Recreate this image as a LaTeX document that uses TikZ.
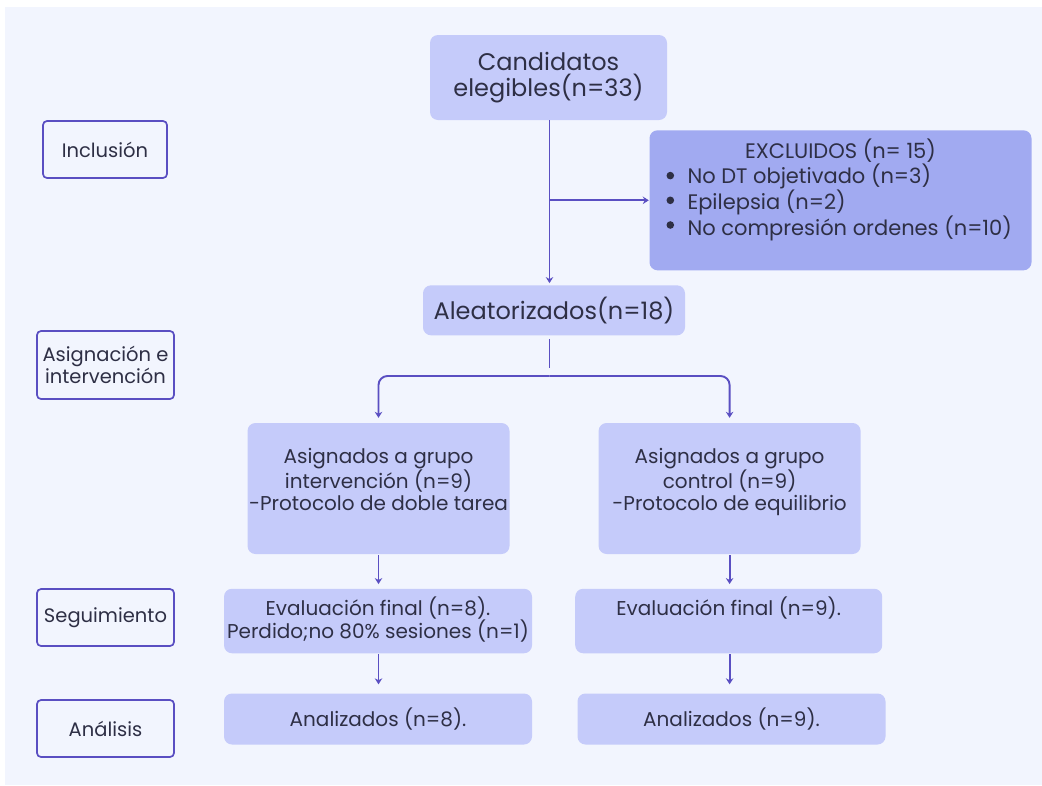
\documentclass[tikz,border=0pt]{standalone}
\usepackage{fontspec}
\setmainfont{Poppins}
\usetikzlibrary{arrows.meta}
\definecolor{bgc}{HTML}{F2F5FE}
\definecolor{boxc}{HTML}{C5CBFA}
\definecolor{exc}{HTML}{A1AAF1}
\definecolor{edgec}{HTML}{5A4FC2}
\definecolor{txt}{HTML}{2E2F45}
\newcommand\fsz[2]{\fontsize{#1}{#2}\selectfont}
\newcommand\bul{\hspace*{38pt}}
\begin{document}
\begin{tikzpicture}[x=1pt,y=-1pt,
  box/.style={fill=boxc, rounded corners=8pt, inner sep=0pt, text=txt},
  exbox/.style={fill=exc, rounded corners=8pt, inner sep=0pt, text=txt},
  side/.style={draw=edgec, line width=1.7pt, fill=bgc, rounded corners=4pt, inner sep=0pt,
               text=txt, align=center, font=\fsz{19.5}{22}},
  link/.style={draw=edgec, line width=1.9pt},
  arr/.style={link, -{Stealth[length=6pt,width=7.5pt]}},
  dot/.style={fill=txt}
]
\useasboundingbox (0,0) rectangle (1042,785);
\fill[white] (0,0) rectangle (1042,785);
\fill[bgc] (5,7) rectangle (1042,785);

% stage labels
\node[side, minimum width=124pt, minimum height=57pt] (incl) at (105,149.5) {Inclusión};
\node[side, minimum width=137pt, minimum height=68pt] (asig) at (105.5,365) {Asignación e\\intervención};
\node[side, minimum width=137pt, minimum height=57pt] (segu) at (105.5,617.5) {Seguimiento};
\node[side, minimum width=137pt, minimum height=57pt] (anls) at (105.5,728.5) {Análisis};

% main boxes
\node[box, minimum width=237pt, minimum height=85pt, align=center, font=\fsz{24}{26.7}] (cand) at (548.5,77.5) {Candidatos\\elegibles(n=33)};
\node[exbox] (excl) at (840.5,200.3) {\parbox[t][140pt][t]{382pt}{\fsz{21}{24.7}%
  {\centering\rule{0pt}{28pt}EXCLUIDOS (n= 15)\par}%
  \raggedright
  \bul No DT objetivado (n=3)\\
  \bul Epilepsia (n=2)\\
  \bul No compresión ordenes (n=10)\par}};
\fill[dot] ([shift={(21,45.5)}]excl.north west) circle (3.8);
\fill[dot] ([shift={(21,70.2)}]excl.north west) circle (3.8);
\fill[dot] ([shift={(21,94.9)}]excl.north west) circle (3.8);
\node[box, minimum width=262pt, minimum height=50pt, font=\fsz{24}{27}] (aleat) at (554,310.3) {Aleatorizados(n=18)};

\node[box] (lg) at (378.5,488.5) {\parbox[t][131pt][t]{262pt}{\fsz{20}{22.2}\centering
  \rule{0pt}{40.3pt}Asignados a grupo\\intervención (n=9)\\-Protocolo de doble tarea\par}};
\node[box] (rg) at (729.6,488.5) {\parbox[t][131pt][t]{262pt}{\fsz{20}{22.2}\centering
  \rule{0pt}{40.3pt}Asignados a grupo\\control (n=9)\\-Protocolo de equilibrio\par}};

\node[box] (evl) at (378,621) {\parbox[t][64.5pt][t]{308pt}{\fsz{20}{23.3}\centering
  \rule{0pt}{26.5pt}Evaluación final (n=8).\\Perdido;no 80\% sesiones (n=1)\par}};
\node[box] (evr) at (728.7,621) {\parbox[t][64.5pt][t]{307pt}{\fsz{20}{23.3}\centering
  \rule{0pt}{27pt}Evaluación final (n=9).\par}};

\node[box, minimum width=308pt, minimum height=51pt, font=\fsz{20}{22}] (anl) at (378,719) {Analizados (n=8).};
\node[box, minimum width=308pt, minimum height=51pt, font=\fsz{20}{22}] (anr) at (731.5,719) {Analizados (n=9).};

% connectors
\coordinate (split) at (549.5,376);
\draw[arr, shorten >=2pt] (cand.south -| split) -- (aleat.north -| split);
\draw[arr, shorten >=0.5pt] (excl.west -| split) -- (excl.west);
\draw[link] (aleat.south -| split) ++(0,3.5) -- ++(0,29);
\draw[arr, rounded corners=9pt, shorten >=5pt] (split) -| (lg.north);
\draw[arr, rounded corners=9pt, shorten >=5pt] (split) -| (rg.north);
\draw[arr, shorten <=1pt, shorten >=4.5pt] (lg.south) -- (lg.south |- evl.north);
\draw[arr, shorten <=1pt, shorten >=4.5pt] (rg.south) -- (rg.south |- evr.north);
\draw[arr, shorten <=1pt, shorten >=9pt] (evl.south -| lg.south) -- (anl.north -| lg.south);
\draw[arr, shorten <=1pt, shorten >=9pt] (evr.south -| rg.south) -- (anr.north -| rg.south);
\end{tikzpicture}
\end{document}
